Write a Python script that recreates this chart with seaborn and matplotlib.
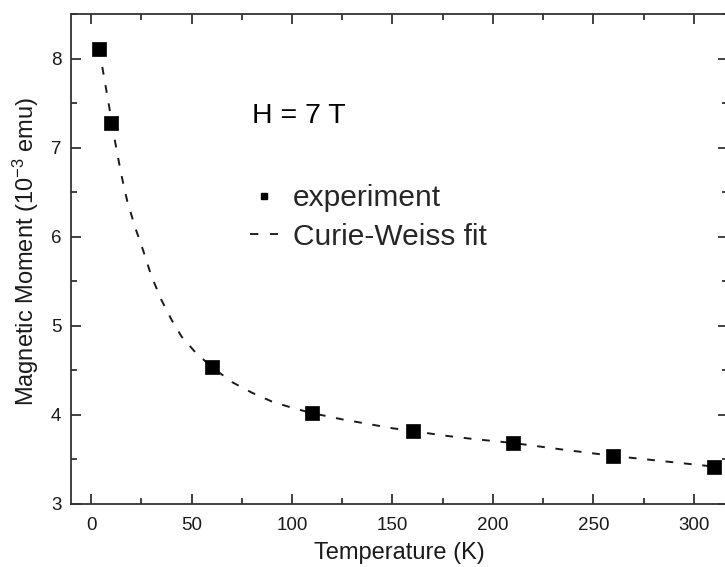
import matplotlib
matplotlib.use('Agg')
import matplotlib.pyplot as plt
import seaborn as sns
import pandas as pd
from matplotlib.lines import Line2D
from matplotlib.ticker import MultipleLocator

# measured points
temp_exp = [4, 10, 60, 110, 160, 210, 260, 310]
moment_exp = [8.11, 7.28, 4.54, 4.02, 3.82, 3.685, 3.54, 3.42]

# Curie-Weiss fit curve
temp_fit = [4, 6, 9, 12, 15, 18, 22, 26, 30, 35, 40, 45, 52, 60, 70, 80,
            90, 100, 110, 125, 140, 150, 160, 175, 190, 210, 235, 260, 285, 310]
moment_fit = [8.11, 7.85, 7.46, 7.06, 6.70, 6.40, 6.10, 5.84, 5.56, 5.29, 5.07,
              4.88, 4.70, 4.54, 4.37, 4.25, 4.15, 4.08, 4.02, 3.95, 3.89, 3.85,
              3.82, 3.77, 3.73, 3.685, 3.61, 3.54, 3.48, 3.42]

df_exp = pd.DataFrame({'T': temp_exp, 'M': moment_exp})
df_fit = pd.DataFrame({'T': temp_fit, 'M': moment_fit})

sns.set_style('ticks')
plt.rcParams['font.family'] = ['Liberation Sans', 'DejaVu Sans']
plt.rcParams['mathtext.fontset'] = 'custom'
plt.rcParams['mathtext.rm'] = 'Liberation Sans'
plt.rcParams['mathtext.it'] = 'Liberation Sans:italic'

fig = plt.figure(figsize=(7.25, 5.67), dpi=100)
ax = fig.add_axes([71 / 725, 63 / 567, 657 / 725, 490 / 567])

ink = '#1a1a1a'
sns.lineplot(data=df_fit, x='T', y='M', ax=ax, color=ink, lw=1.4,
             dashes=False, linestyle=(0, (4, 5.5)), sort=False, estimator=None)
sns.scatterplot(data=df_exp, x='T', y='M', ax=ax, marker='s', s=95,
                color='black', edgecolor='black', linewidth=0.5, zorder=3)

ax.set_xlim(-10, 317)
ax.set_ylim(3, 8.5)
ax.xaxis.set_major_locator(MultipleLocator(50))
ax.xaxis.set_minor_locator(MultipleLocator(25))
ax.yaxis.set_major_locator(MultipleLocator(1))
ax.yaxis.set_minor_locator(MultipleLocator(0.5))

for s in ax.spines.values():
    s.set_linewidth(1.3)
    s.set_color('#333333')
ax.tick_params(which='both', direction='in', top=True, right=True,
               color='#333333', width=1.3, labelsize=13.5, labelcolor=ink)
ax.tick_params(which='major', length=7.5)
ax.tick_params(which='minor', length=4.5)
ax.tick_params(axis='x', which='major', pad=9)
ax.tick_params(axis='y', which='major', pad=7)

ax.set_xlabel('Temperature (K)', fontsize=17, color=ink, labelpad=6)
ax.set_ylabel('Magnetic Moment (10$^{-3}$ emu)', fontsize=17, color=ink)
ax.yaxis.set_label_coords(-0.046, 0.515)

ax.text(80, 7.28, 'H = 7 T', fontsize=20.5, color='black', va='baseline')

handles = [
    Line2D([], [], marker='s', color='black', ls='none', markersize=4.5),
    Line2D([], [], color='black', lw=1.2, linestyle=(0, (5, 7))),
]
ax.legend(handles, ['experiment', 'Curie-Weiss fit'], loc='upper left',
          bbox_to_anchor=(0.272, 0.653), frameon=False, fontsize=21.5,
          handlelength=0.95, handletextpad=0.5, labelspacing=0.36,
          borderpad=0, borderaxespad=0)

fig.savefig('out.png', dpi=100, facecolor='white')
